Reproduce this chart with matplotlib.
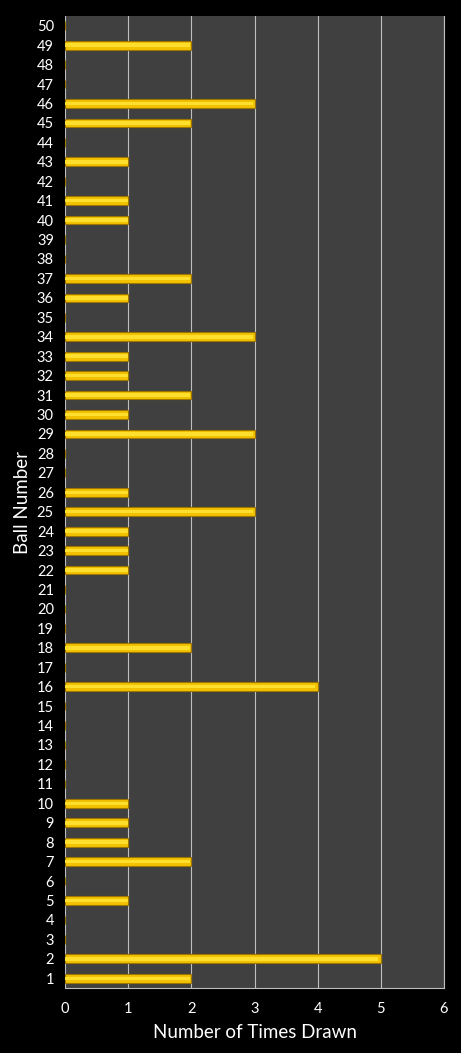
#!/usr/bin/env python
# horizontal bar chart of how often each ball was drawn
import matplotlib.pyplot as plt

balls = list(range(1, 51))
drawn = {1: 2, 2: 5, 5: 1, 7: 2, 8: 1, 9: 1, 10: 1, 16: 4, 18: 2,
         22: 1, 23: 1, 24: 1, 25: 3, 26: 1, 29: 3, 30: 1, 31: 2, 32: 1,
         33: 1, 34: 3, 36: 1, 37: 2, 40: 1, 41: 1, 43: 1, 45: 2, 46: 3, 49: 2}
counts = [drawn.get(b, 0) for b in balls]

plt.rcParams['font.family'] = ['Lato', 'DejaVu Sans']

fig = plt.figure(figsize=(4.61, 10.53), dpi=100, facecolor='black')
ax = fig.add_axes([65/461, 1 - 988/1053, (444-65)/461, (988-16)/1053])
ax.set_facecolor('#404040')

ax.barh(balls, counts, height=0.45, color='#F2C200', edgecolor='#9C7600',
        linewidth=0.8, zorder=3)
# soft highlight in the middle of each bar
ax.barh(balls, [c * 0.99 for c in counts], height=0.18, color='#FFDF2E',
        linewidth=0, zorder=4)

ax.set_xlim(0, 6)
ax.set_ylim(0.5, 50.5)
ax.set_xticks(range(0, 7))
ax.set_yticks(balls)
ax.xaxis.grid(True, color='#BFBFBF', linewidth=0.8, zorder=1)
ax.set_axisbelow(True)

for s in ['top', 'left']:
    ax.spines[s].set_visible(False)
for s in ['bottom', 'right']:
    ax.spines[s].set_color('#BFBFBF')
    ax.spines[s].set_linewidth(0.8)

ax.tick_params(axis='both', colors='white', labelsize=10.5, length=0)
ax.tick_params(axis='x', pad=10)
ax.tick_params(axis='y', pad=8)
ax.set_xlabel('Number of Times Drawn', color='white', fontsize=13.5, labelpad=6)
ax.set_ylabel('Ball Number', color='white', fontsize=13.5, labelpad=4)

fig.savefig('out.png', facecolor='black')
